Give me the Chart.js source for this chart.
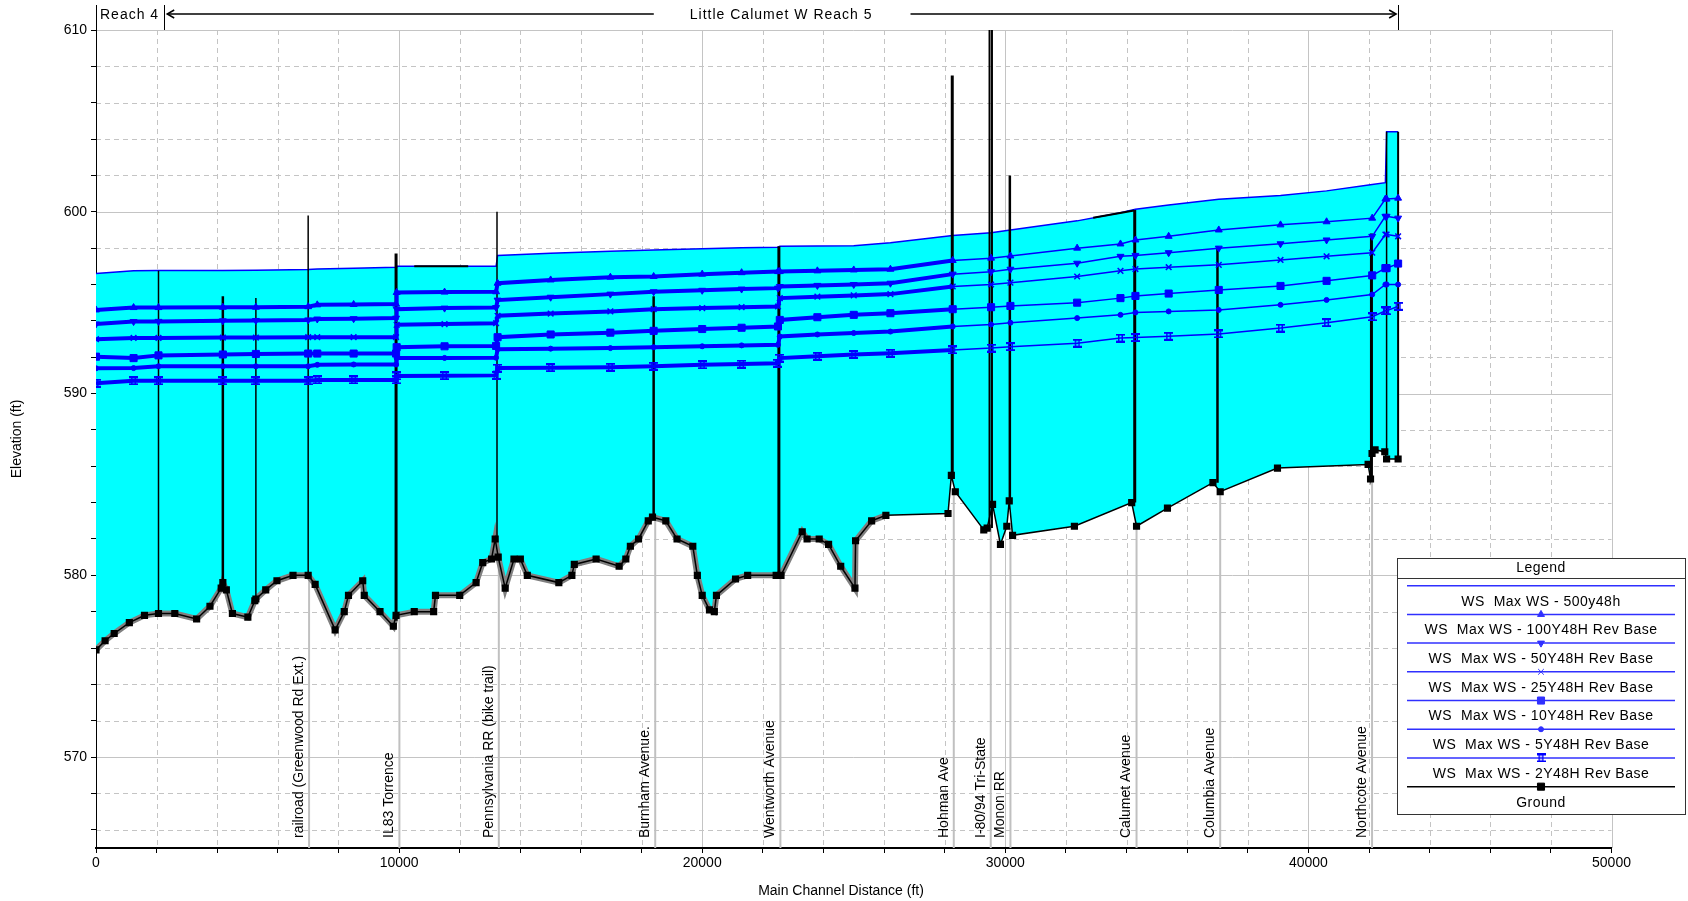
<!DOCTYPE html>
<html>
<head>
<meta charset="utf-8">
<title>Little Calumet W Reach 5 - Profile</title>
<script src="https://cdn.jsdelivr.net/npm/chart.js@4.4.1/dist/chart.umd.min.js"></script>
<style>
  html, body { margin: 0; padding: 0; background: #fff; }
  #wrap { width: 1688px; height: 901px; }
</style>
</head>
<body>
<div id="wrap"><canvas id="profileChart" width="1688" height="901"></canvas></div>
<script>
// Water surface profiles (ft), read at each cross-section station
const wsStation = [0, 1240, 2062, 4185, 5275, 7000, 7300, 8500, 9900, 9920, 11500, 13200, 13250, 15000, 16970, 18398, 20000, 21300, 22500, 22560, 23800, 25000, 26210, 28265, 29531, 30169, 32370, 33800, 34294, 35390, 37043, 39080, 40600, 42105, 42540, 42580, 42960];
const ws500 = [596.6, 596.75, 596.77, 596.77, 596.78, 596.82, 596.85, 596.9, 596.95, 597.0, 597.0, 597.0, 597.6, 597.72, 597.83, 597.9, 597.97, 598.02, 598.05, 598.1, 598.12, 598.13, 598.3, 598.7, 598.85, 599.0, 599.5, 599.95, 600.14, 600.37, 600.69, 600.9, 601.15, 601.5, 601.6, 604.4, 604.4];
const ws100 = [594.6, 594.73, 594.73, 594.75, 594.75, 594.78, 594.88, 594.9, 594.92, 595.56, 595.58, 595.6, 596.07, 596.25, 596.4, 596.44, 596.57, 596.65, 596.71, 596.71, 596.75, 596.8, 596.84, 597.32, 597.45, 597.57, 598.0, 598.23, 598.45, 598.65, 599.0, 599.28, 599.45, 599.65, 600.7, 600.7, 600.75];
const ws50 = [593.83, 593.96, 593.97, 594.0, 594.02, 594.05, 594.1, 594.12, 594.15, 594.64, 594.7, 594.73, 595.14, 595.3, 595.47, 595.6, 595.68, 595.75, 595.8, 595.89, 595.95, 596.0, 596.07, 596.57, 596.7, 596.84, 597.17, 597.55, 597.6, 597.75, 598.0, 598.24, 598.45, 598.65, 599.75, 599.75, 599.65];
const ws25 = [592.99, 593.06, 593.06, 593.08, 593.08, 593.1, 593.1, 593.1, 593.1, 593.78, 593.82, 593.87, 594.28, 594.4, 594.52, 594.64, 594.7, 594.75, 594.79, 595.25, 595.33, 595.4, 595.47, 595.89, 596.0, 596.1, 596.44, 596.75, 596.85, 596.95, 597.08, 597.35, 597.55, 597.75, 598.75, 598.75, 598.65];
const ws10 = [592.03, 591.95, 592.1, 592.15, 592.18, 592.2, 592.2, 592.2, 592.2, 592.55, 592.6, 592.62, 593.1, 593.25, 593.35, 593.45, 593.55, 593.62, 593.69, 594.05, 594.2, 594.33, 594.42, 594.64, 594.75, 594.82, 595.0, 595.25, 595.37, 595.5, 595.7, 595.92, 596.2, 596.5, 596.9, 596.9, 597.15];
const ws5 = [591.39, 591.4, 591.5, 591.5, 591.5, 591.5, 591.58, 591.6, 591.6, 591.95, 591.96, 591.97, 592.44, 592.47, 592.5, 592.55, 592.6, 592.65, 592.68, 593.14, 593.25, 593.33, 593.41, 593.69, 593.8, 593.9, 594.15, 594.33, 594.46, 594.52, 594.6, 594.88, 595.15, 595.45, 596.0, 596.0, 596.0];
const ws2 = [590.57, 590.7, 590.7, 590.7, 590.7, 590.7, 590.75, 590.75, 590.75, 590.97, 590.98, 591.0, 591.4, 591.42, 591.45, 591.5, 591.58, 591.62, 591.67, 591.95, 592.05, 592.15, 592.22, 592.4, 592.5, 592.58, 592.77, 593.05, 593.08, 593.15, 593.28, 593.6, 593.9, 594.22, 594.55, 594.55, 594.8];

// Channel invert (ground)
const groundX = [0, 300, 600, 1100, 1600, 2062, 2600, 3320, 3760, 4130, 4185, 4300, 4500, 5010, 5240, 5275, 5600, 5970, 6500, 7000, 7230, 7890, 8190, 8330, 8800, 8850, 9370, 9810, 9900, 10500, 11140, 11200, 12000, 12540, 12760, 13050, 13170, 13270, 13500, 13790, 14000, 14230, 15270, 15700, 15780, 16500, 17260, 17480, 17630, 17900, 18220, 18360, 18800, 19170, 19690, 19840, 20000, 20240, 20400, 20470, 21100, 21500, 22440, 22600, 23300, 23460, 23860, 24170, 24570, 25040, 25060, 25590, 26060, 28110, 28220, 28350, 29290, 29400, 29580, 29840, 30050, 30130, 30240, 32280, 34170, 34330, 35350, 36850, 37090, 38980, 41970, 42050, 42100, 42200, 42520, 42580, 42960];
const groundY = [575.9, 576.4, 576.8, 577.4, 577.8, 577.9, 577.9, 577.6, 578.3, 579.3, 579.6, 579.2, 577.9, 577.7, 578.6, 578.7, 579.2, 579.7, 580.0, 580.0, 579.5, 577.0, 578.0, 578.9, 579.7, 578.9, 578.0, 577.2, 577.8, 578.0, 578.0, 578.9, 578.9, 579.6, 580.7, 580.9, 582.0, 581.0, 579.3, 580.9, 580.9, 580.0, 579.6, 580.0, 580.6, 580.9, 580.5, 580.9, 581.6, 582.0, 583.0, 583.2, 583.0, 582.0, 581.6, 580.0, 578.9, 578.1, 578.0, 578.9, 579.8, 580.0, 580.0, 580.0, 582.4, 582.0, 582.0, 581.7, 580.5, 579.3, 581.9, 583.0, 583.3, 583.4, 585.5, 584.6, 582.5, 582.6, 583.9, 581.7, 582.7, 584.1, 582.2, 582.7, 584.0, 582.7, 583.7, 585.1, 584.6, 585.9, 586.1, 585.3, 586.7, 586.9, 586.8, 586.4, 586.4];
const interpEnd = 26060; // interpolated sections (grey) run up to here

// Bridges / structures
const bridgeX = [2062, 4185, 5275, 7000, 9900, 13230, 18398, 22530, 28250, 29480, 29560, 30150, 34270, 37000, 42080, 42580, 42960];
const bridgeTop = [596.75, 595.35, 595.25, 599.8, 597.7, 600.0, 595.35, 598.1, 607.5, 612, 612, 602.0, 600.1, 598.1, 598.8, 604.4, 604.4];
const bridgeBase = [577.9, 579.5, 578.7, 580.0, 577.5, 582.0, 583.2, 580.0, 585.6, 582.5, 582.6, 584.1, 584.0, 585.1, 585.3, 586.8, 586.4];
const bridgeWidth = [1.5, 2.5, 1.5, 1.5, 3, 1.5, 2.5, 3, 3, 2, 2, 2.5, 3, 2.5, 3, 1.5, 2];

// Deck lines along the top profile
const deckX = [[10500, 12280], [32900, 34250]];
const deckY = [[597.0, 597.0], [599.67, 600.07]];

// Structure names under the profile
const labelNames = ['railroad (Greenwood Rd Ext.)', 'IL83 Torrence', 'Pennsylvania RR (bike trail)', 'Burnham Avenue.', 'Wentworth Avenue', 'Hohman Ave', 'I-80/94 Tri-State', 'Monon RR', 'Calumet Avenue', 'Columbia Avenue', 'Northcote Avenue'];
const labelStation = [7030, 10010, 13290, 18450, 22580, 28300, 29520, 30170, 34330, 37090, 42100];
const labelTop = [580.0, 577.7, 581.0, 583.1, 580.0, 584.8, 582.6, 582.6, 582.7, 584.6, 585.3];

// Reach boundaries
const reachBounds = [0, 2250, 42960];
const reachNames = ['Reach 4', 'Little Calumet W Reach 5'];

const legendLabels = ['WS  Max WS - 500y48h', 'WS  Max WS - 100Y48H Rev Base', 'WS  Max WS - 50Y48H Rev Base', 'WS  Max WS - 25Y48H Rev Base', 'WS  Max WS - 10Y48H Rev Base', 'WS  Max WS - 5Y48H Rev Base', 'WS  Max WS - 2Y48H Rev Base', 'Ground'];

const BLUE = '#0000ff';
const CYAN = '#00ffff';
const FONT = '"Liberation Sans", Arial, sans-serif';
const DENSE_END = 26300;

function makeHourglass(color) {
    const c = document.createElement('canvas');
    c.width = 9; c.height = 9;
    const g = c.getContext('2d');
    g.fillStyle = color;
    g.fillRect(0, 0, 9, 2);
    g.fillRect(0, 7, 9, 2);
    g.fillRect(2, 0, 1.5, 9);
    g.fillRect(5.5, 0, 1.5, 9);
    return c;
}
const hourglass = makeHourglass(BLUE);

function pts(xs, ys) {
    return xs.map((v, i) => ({ x: v, y: ys[i] }));
}

function wsSet(label, values, style, extra) {
    return Object.assign({
        label: label,
        data: pts(wsStation, values),
        borderColor: BLUE,
        backgroundColor: BLUE,
        pointBackgroundColor: BLUE,
        pointBorderColor: BLUE,
        borderWidth: 1.5,
        pointStyle: style,
        pointRadius: 3.5,
        pointBorderWidth: 1,
        tension: 0,
        fill: false,
        order: 3,
        segment: {
            borderWidth: c => (c.p0.parsed.x < DENSE_END ? 4 : 1.5)
        }
    }, extra || {});
}

const GROUND_INDEX = 8;
const datasets = [
    {
        label: legendLabels[0],
        data: pts(wsStation, ws500),
        borderColor: BLUE,
        borderWidth: 1.5,
        pointRadius: 0,
        tension: 0,
        fill: GROUND_INDEX,
        backgroundColor: CYAN,
        order: 10
    },
    wsSet(legendLabels[1], ws100, 'triangle', { pointRadius: 4 }),
    wsSet(legendLabels[2], ws50, 'triangle', { pointRadius: 4, pointRotation: 180 }),
    wsSet(legendLabels[3], ws25, 'crossRot', { pointRadius: 4, pointBorderWidth: 1.5 }),
    wsSet(legendLabels[4], ws10, 'rect', { pointRadius: 5 }),
    wsSet(legendLabels[5], ws5, 'circle', { pointRadius: 2.5 }),
    wsSet(legendLabels[6], ws2, hourglass),
    {
        label: 'interp',
        data: pts(groundX, groundY).filter(p => p.x <= interpEnd),
        borderColor: '#808080',
        borderWidth: 6,
        pointRadius: 0,
        tension: 0,
        fill: false,
        order: 8
    },
    {
        label: legendLabels[7],
        data: pts(groundX, groundY),
        borderColor: '#000',
        backgroundColor: '#000',
        borderWidth: 1.5,
        pointStyle: 'rect',
        pointRadius: 4,
        pointBackgroundColor: '#000',
        pointBorderColor: '#000',
        tension: 0,
        fill: false,
        order: 1
    }
];

bridgeX.forEach((bx, i) => {
    datasets.push({
        label: 'bridge' + i,
        data: [{ x: bx, y: bridgeBase[i] }, { x: bx, y: bridgeTop[i] }],
        borderColor: '#000',
        borderWidth: bridgeWidth[i],
        pointRadius: 0,
        fill: false,
        order: 5
    });
});

labelStation.forEach((s, i) => {
    datasets.push({
        label: 'mark' + i,
        data: [{ x: s, y: labelTop[i] }, { x: s, y: 565 }],
        borderColor: '#c0c0c0',
        borderWidth: 2,
        pointRadius: 0,
        fill: false,
        order: 9
    });
});

deckX.forEach((dx, i) => {
    datasets.push({
        label: 'deck' + i,
        data: pts(dx, deckY[i]),
        borderColor: '#000',
        borderWidth: 2,
        pointRadius: 0,
        fill: false,
        order: 2
    });
});

// Solid grid at labelled values, dashed in between (behind the fill)
const gridPlugin = {
    id: 'hecGrid',
    beforeDraw(chart) {
        const { ctx, chartArea: a, scales: { x, y } } = chart;
        ctx.save();
        ctx.strokeStyle = '#c4c4c4';
        ctx.lineWidth = 1;
        for (let v = 2000; v <= x.max; v += 2000) {
            const px = Math.round(x.getPixelForValue(v)) + 0.5;
            ctx.setLineDash(v % 10000 === 0 ? [] : [5, 4]);
            ctx.beginPath();
            ctx.moveTo(px, a.top);
            ctx.lineTo(px, a.bottom);
            ctx.stroke();
        }
        for (let v = 566; v <= y.max; v += 2) {
            const py = Math.round(y.getPixelForValue(v)) + 0.5;
            ctx.setLineDash(v % 10 === 0 ? [] : [5, 4]);
            ctx.beginPath();
            ctx.moveTo(a.left, py);
            ctx.lineTo(a.right, py);
            ctx.stroke();
        }
        ctx.restore();
    }
};

function arrowLine(ctx, x1, x2, yy, headLeft, headRight) {
    ctx.beginPath();
    ctx.moveTo(x1, yy);
    ctx.lineTo(x2, yy);
    ctx.stroke();
    if (headLeft) {
        ctx.beginPath();
        ctx.moveTo(x1 + 7, yy - 4);
        ctx.lineTo(x1, yy);
        ctx.lineTo(x1 + 7, yy + 4);
        ctx.stroke();
    }
    if (headRight) {
        ctx.beginPath();
        ctx.moveTo(x2 - 7, yy - 4);
        ctx.lineTo(x2, yy);
        ctx.lineTo(x2 - 7, yy + 4);
        ctx.stroke();
    }
}

const annotatePlugin = {
    id: 'hecAnnotate',
    afterDraw(chart) {
        const { ctx, chartArea: a, scales: { x } } = chart;
        ctx.save();
        ctx.fillStyle = '#000';
        ctx.strokeStyle = '#000';

        // Axis titles
        ctx.font = '14px ' + FONT;
        ctx.textAlign = 'center';
        ctx.textBaseline = 'middle';
        ctx.fillText('Main Channel Distance (ft)', 841, 891);
        ctx.save();
        ctx.translate(17, (a.top + a.bottom) / 2);
        ctx.rotate(-Math.PI / 2);
        ctx.fillText('Elevation (ft)', 0, 0);
        ctx.restore();

        // Reach bar above the plot
        const rx = reachBounds.map(v => x.getPixelForValue(v));
        ctx.lineWidth = 1;
        rx.forEach(px => {
            ctx.beginPath();
            ctx.moveTo(Math.round(px) + 0.5, 5);
            ctx.lineTo(Math.round(px) + 0.5, a.top);
            ctx.stroke();
        });
        ctx.letterSpacing = '1px';
        ctx.textAlign = 'left';
        ctx.fillText(reachNames[0], rx[0] + 4, 15);
        ctx.textAlign = 'center';
        const mid = (rx[1] + rx[2]) / 2;
        ctx.fillText(reachNames[1], mid, 15);
        const tw = ctx.measureText(reachNames[1]).width;
        ctx.lineWidth = 1.5;
        arrowLine(ctx, rx[1] + 3, mid - tw / 2 - 36, 14, true, false);
        arrowLine(ctx, mid + tw / 2 + 38, rx[2] - 2, 14, false, true);
        ctx.letterSpacing = '0px';

        // Structure names (vertical)
        ctx.font = '14px ' + FONT;
        ctx.textAlign = 'left';
        labelNames.forEach((name, i) => {
            const px = x.getPixelForValue(labelStation[i]) - 10;
            ctx.save();
            ctx.translate(px, a.bottom - 10);
            ctx.rotate(-Math.PI / 2);
            ctx.fillText(name, 0, 0);
            ctx.restore();
        });

        // Legend box
        const L = { left: chart.width - 291, top: 558, right: chart.width - 3, bottom: 814 };
        const cx = (L.left + L.right) / 2;
        ctx.fillStyle = '#fff';
        ctx.fillRect(L.left, L.top, L.right - L.left, L.bottom - L.top);
        ctx.strokeStyle = '#333';
        ctx.lineWidth = 1;
        ctx.strokeRect(L.left + 0.5, L.top + 0.5, L.right - L.left, L.bottom - L.top);
        ctx.beginPath();
        ctx.moveTo(L.left, L.top + 20.5);
        ctx.lineTo(L.right, L.top + 20.5);
        ctx.stroke();
        ctx.fillStyle = '#000';
        ctx.textAlign = 'center';
        ctx.letterSpacing = '0.5px';
        ctx.fillText('Legend', cx, L.top + 10.5);

        const styles = [null, 'triangle', 'triangle', 'crossRot', 'rect', 'circle', hourglass, 'rect'];
        const radii = [0, 4, 4, 4, 5, 2.5, 4, 5];
        const rots = [0, 0, 180, 0, 0, 0, 0, 0];
        legendLabels.forEach((lab, i) => {
            const ly = L.top + 27.7 + i * 28.71;
            const col = i === 7 ? '#000' : '#3030ff';
            ctx.strokeStyle = col;
            ctx.fillStyle = col;
            ctx.lineWidth = 1.5;
            ctx.beginPath();
            ctx.moveTo(L.left + 10, ly);
            ctx.lineTo(L.right - 10, ly);
            ctx.stroke();
            if (styles[i]) {
                ctx.lineWidth = 1;
                Chart.helpers.drawPoint(ctx, {
                    pointStyle: styles[i], radius: radii[i], rotation: rots[i], borderWidth: 1
                }, cx, ly);
            }
            ctx.fillStyle = '#000';
            ctx.fillText(lab, cx, ly + 16);
        });
        ctx.restore();
    }
};

const tickFont = { family: FONT, size: 14 };
const xTicks = [];
for (let v = 0; v <= 50000; v += 2000) xTicks.push({ value: v });
const yTicks = [];
for (let v = 566; v <= 610; v += 2) yTicks.push({ value: v });

new Chart(document.getElementById('profileChart'), {
    type: 'line',
    data: { datasets: datasets },
    options: {
        responsive: false,
        animation: false,
        layout: { padding: { left: 0, top: 30, right: 76.5, bottom: 0 } },
        plugins: {
            legend: { display: false },
            tooltip: { enabled: false }
        },
        scales: {
            x: {
                type: 'linear',
                min: 0,
                max: 50000,
                afterFit: s => { s.height = 53; },
                afterBuildTicks: s => { s.ticks = xTicks.slice(); },
                ticks: {
                    autoSkip: false,
                    maxRotation: 0,
                    padding: 2,
                    color: '#000',
                    font: tickFont,
                    callback: v => (v % 10000 === 0 ? String(v) : '')
                },
                grid: { drawOnChartArea: false, tickLength: 5, tickColor: '#000' },
                border: { color: '#000', width: 2 }
            },
            y: {
                type: 'linear',
                min: 565,
                max: 610,
                afterFit: s => { s.width = 96; },
                afterBuildTicks: s => { s.ticks = yTicks.slice(); },
                ticks: {
                    autoSkip: false,
                    padding: 4,
                    color: '#000',
                    font: tickFont,
                    callback: v => (v % 10 === 0 ? String(v) : '')
                },
                grid: { drawOnChartArea: false, tickLength: 5, tickColor: '#000' },
                border: { color: '#000', width: 1 }
            }
        }
    },
    plugins: [gridPlugin, annotatePlugin]
});
</script>
</body>
</html>
